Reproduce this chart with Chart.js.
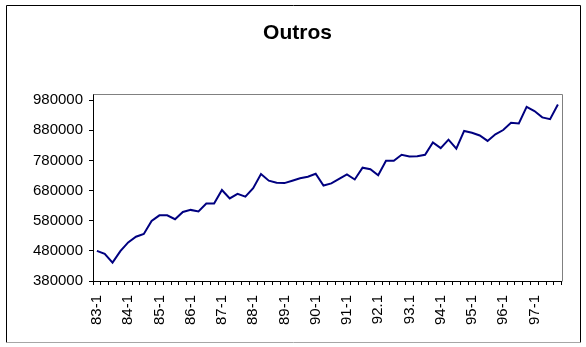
<!DOCTYPE html>
<html>
<head>
<meta charset="utf-8">
<script src="https://cdn.jsdelivr.net/npm/chart.js@4/dist/chart.umd.min.js"></script>
<style>
  html, body { margin: 0; padding: 0; background: #fff; }
  #wrap { position: relative; width: 586px; height: 347px; }
</style>
</head>
<body>
<div id="wrap"><canvas id="outros-chart"></canvas></div>
<script>
// quarterly periods, 1983 Q1 to 1997 Q4
const quarters = [
    '83-1', '83-2', '83-3', '83-4', '84-1', '84-2', '84-3', '84-4',
    '85-1', '85-2', '85-3', '85-4', '86-1', '86-2', '86-3', '86-4',
    '87-1', '87-2', '87-3', '87-4', '88-1', '88-2', '88-3', '88-4',
    '89-1', '89-2', '89-3', '89-4', '90-1', '90-2', '90-3', '90-4',
    '91-1', '91-2', '91-3', '91-4', '92.1', '92.2', '92.3', '92.4',
    '93.1', '93.2', '93.3', '93.4', '94-1', '94-2', '94-3', '94-4',
    '95-1', '95-2', '95-3', '95-4', '96-1', '96-2', '96-3', '96-4',
    '97-1', '97-2', '97-3', '97-4'
];

const outros = [
    480000, 470000, 441000, 479000, 508000, 527000, 536000, 579000, 598000, 598000,
    585000, 609000, 616000, 611000, 637000, 637000, 682000, 654000, 669000, 660000,
    688000, 735000, 713000, 706000, 705000, 713000, 721000, 726000, 736000, 697000,
    704000, 719000, 734000, 717000, 756000, 751000, 731000, 779000, 779000, 799000,
    793000, 794000, 799000, 840000, 821000, 849000, 819000, 878000, 872000, 863000,
    845000, 867000, 881000, 905000, 903000, 958000, 944000, 923000, 917000, 966000
];

const yTicks = [380000, 480000, 580000, 680000, 780000, 880000, 980000];
const yMin = 380000;
const yMax = 1000000;

const fontFamily = 'Liberation Sans, Arial, sans-serif';

// outer frame plus the grey top/right edges of the plot area
const framePlugin = {
    id: 'frame',
    beforeDraw(chart) {
        const ctx = chart.ctx;
        ctx.save();
        ctx.fillStyle = '#fff';
        ctx.fillRect(0, 0, chart.width, chart.height);
        ctx.lineWidth = 1;
        ctx.strokeStyle = '#000';
        ctx.beginPath();
        ctx.moveTo(6.5, 342.5);
        ctx.lineTo(6.5, 5.5);
        ctx.lineTo(580.5, 5.5);
        ctx.lineTo(580.5, 342.5);
        ctx.stroke();
        ctx.strokeStyle = '#a6a6a6';
        ctx.beginPath();
        ctx.moveTo(6.5, 342.5);
        ctx.lineTo(580.5, 342.5);
        ctx.stroke();
        ctx.restore();
    },
    beforeDatasetsDraw(chart) {
        const a = chart.chartArea;
        const ctx = chart.ctx;
        ctx.save();
        ctx.strokeStyle = '#808080';
        ctx.lineWidth = 1;
        ctx.beginPath();
        ctx.moveTo(Math.round(a.left) + 0.5, Math.round(a.top) + 0.5);
        ctx.lineTo(Math.round(a.right) + 0.5, Math.round(a.top) + 0.5);
        ctx.lineTo(Math.round(a.right) + 0.5, Math.round(a.bottom) + 0.5);
        ctx.stroke();
        ctx.restore();
    }
};

const ctx = document.getElementById('outros-chart').getContext('2d');

new Chart(ctx, {
    type: 'line',
    data: {
        labels: quarters,
        datasets: [{
            label: 'Outros',
            data: outros,
            borderColor: '#000080',
            borderWidth: 2,
            pointRadius: 0,
            tension: 0,
            fill: false
        }]
    },
    options: {
        responsive: true,
        maintainAspectRatio: false,
        animation: false,
        layout: { padding: { left: 22, right: 13, top: 0, bottom: 0 } },
        plugins: {
            legend: { display: false },
            tooltip: { enabled: false },
            title: {
                display: true,
                text: 'Outros',
                color: '#000',
                font: { family: fontFamily, size: 21, weight: 'bold', lineHeight: 1.2 },
                padding: { top: 21, bottom: 48 }
            }
        },
        scales: {
            x: {
                type: 'category',
                offset: true,
                grid: {
                    offset: true,
                    drawOnChartArea: false,
                    drawTicks: true,
                    tickLength: 4,
                    color: '#000'
                },
                border: { color: '#000', width: 1 },
                ticks: {
                    autoSkip: false,
                    maxRotation: 90,
                    minRotation: 90,
                    padding: 10,
                    color: '#000',
                    font: { family: fontFamily, size: 15 },
                    callback: function (value, index) {
                        return index % 4 === 0 ? this.getLabelForValue(value) : '';
                    }
                },
                afterFit(scale) { scale.height = 66; }
            },
            y: {
                min: yMin,
                max: yMax,
                grid: {
                    drawOnChartArea: false,
                    drawTicks: true,
                    tickLength: 4,
                    color: '#000'
                },
                border: { color: '#000', width: 1 },
                ticks: {
                    padding: 6,
                    color: '#000',
                    font: { family: fontFamily, size: 15 },
                    callback: (v) => String(v)
                },
                afterBuildTicks(scale) {
                    scale.ticks = yTicks.map(v => ({ value: v }));
                },
                afterFit(scale) { scale.width = 71; }
            }
        }
    },
    plugins: [framePlugin]
});
</script>
</body>
</html>
